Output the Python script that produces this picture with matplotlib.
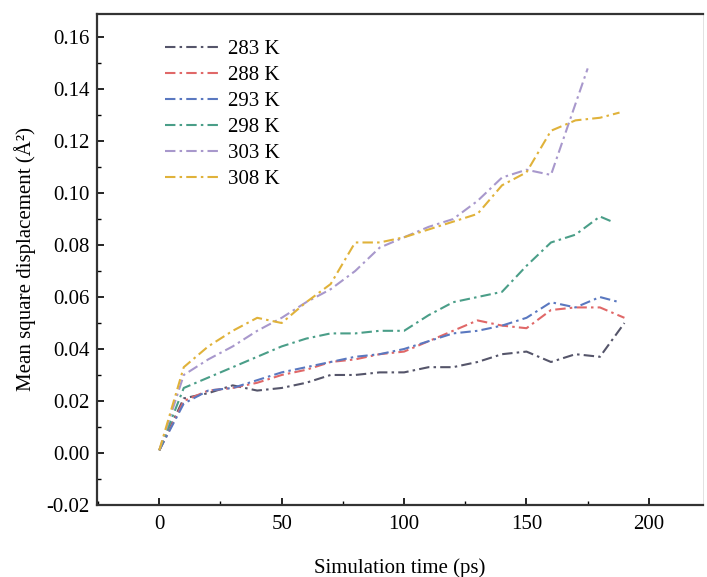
import matplotlib
matplotlib.use("Agg")
import matplotlib.pyplot as plt
from matplotlib.ticker import MultipleLocator, FormatStrFormatter

# simulation time (ps)
T_FULL = [0, 10, 20, 30, 40, 50, 60, 70, 80, 90, 100, 110, 120, 130, 140, 150, 160, 170, 180, 190]
T_293 = [0, 10, 20, 30, 40, 50, 60, 70, 80, 90, 100, 110, 120, 130, 140, 150, 160, 170, 180, 188]
T_298 = [0, 10, 20, 30, 40, 50, 60, 70, 80, 90, 100, 110, 120, 130, 140, 150, 160, 170, 180, 185]
T_303 = [0, 10, 20, 30, 40, 50, 60, 70, 80, 90, 100, 110, 120, 130, 140, 150, 160, 175]
T_308 = [0, 10, 20, 30, 40, 50, 60, 70, 80, 90, 100, 110, 120, 130, 140, 150, 160, 170, 180, 188]

MSD_283 = [0.001, 0.021, 0.023, 0.026, 0.024, 0.025, 0.027, 0.030, 0.030, 0.031,
           0.031, 0.033, 0.033, 0.035, 0.038, 0.039, 0.035, 0.038, 0.037, 0.050]
MSD_288 = [0.001, 0.020, 0.024, 0.025, 0.027, 0.030, 0.032, 0.035, 0.036, 0.038,
           0.039, 0.043, 0.047, 0.051, 0.049, 0.048, 0.055, 0.056, 0.056, 0.052]
MSD_293 = [0.001, 0.019, 0.024, 0.025, 0.028, 0.031, 0.033, 0.035, 0.037, 0.038,
           0.040, 0.043, 0.046, 0.047, 0.049, 0.052, 0.058, 0.056, 0.060, 0.058]
MSD_298 = [0.001, 0.025, 0.029, 0.033, 0.037, 0.041, 0.044, 0.046, 0.046, 0.047,
           0.047, 0.053, 0.058, 0.060, 0.062, 0.072, 0.081, 0.084, 0.091, 0.089]
MSD_303 = [0.001, 0.030, 0.036, 0.041, 0.047, 0.052, 0.058, 0.063, 0.070, 0.079,
           0.083, 0.087, 0.090, 0.097, 0.106, 0.109, 0.107, 0.148]
MSD_308 = [0.001, 0.033, 0.041, 0.047, 0.052, 0.050, 0.058, 0.065, 0.081, 0.081,
           0.083, 0.086, 0.089, 0.092, 0.103, 0.108, 0.124, 0.128, 0.129, 0.131]

LABELS = ["283 K", "288 K", "293 K", "298 K", "303 K", "308 K"]
COLORS = ["#55556a", "#e06868", "#5a78c0", "#4a9e88", "#a898cc", "#e0b23a"]


def main() -> None:
    plt.rcParams["font.family"] = ["Liberation Serif", "DejaVu Serif"]
    plt.rcParams["font.size"] = 15

    fig = plt.figure(figsize=(7.07, 5.77), dpi=100)
    ax = fig.add_axes([0.137, 0.125, 0.857, 0.851])

    series = [
        (T_FULL, MSD_283),
        (T_FULL, MSD_288),
        (T_293, MSD_293),
        (T_298, MSD_298),
        (T_303, MSD_303),
        (T_308, MSD_308),
    ]
    for (t, msd), label, color in zip(series, LABELS, COLORS):
        ax.plot(t, msd, color=color, linewidth=1.5, label=label,
                dashes=(5, 2, 1.2, 2))

    ax.set_xlim(-25.5, 222)
    ax.set_ylim(-0.02, 0.169)
    ax.xaxis.set_major_locator(MultipleLocator(50))
    ax.xaxis.set_minor_locator(MultipleLocator(25))
    ax.yaxis.set_major_locator(MultipleLocator(0.02))
    ax.yaxis.set_minor_locator(MultipleLocator(0.01))
    ax.yaxis.set_major_formatter(FormatStrFormatter("%.2f"))
    ax.tick_params(which="major", direction="in", length=5, width=1.2, labelsize=15)
    ax.tick_params(which="minor", direction="in", length=3, width=1.0)
    ax.tick_params(axis="x", pad=7)
    ax.tick_params(axis="y", pad=5)

    for side in ["left", "top", "bottom"]:
        ax.spines[side].set_linewidth(1.6)
        ax.spines[side].set_color("#333333")
    ax.spines["right"].set_linewidth(0.6)
    ax.spines["right"].set_color("#dddddd")

    ax.set_xlabel("Simulation time (ps)", fontsize=15, labelpad=18)
    ax.set_ylabel("Mean square displacement (Å²)", fontsize=15, labelpad=8)

    ax.legend(loc="upper left", bbox_to_anchor=(0.082, 0.986), frameon=False,
              fontsize=15, handlelength=2.6, labelspacing=0.31, handletextpad=0.4)

    plt.savefig("out.png", dpi=100)
    plt.close()


if __name__ == "__main__":
    main()
